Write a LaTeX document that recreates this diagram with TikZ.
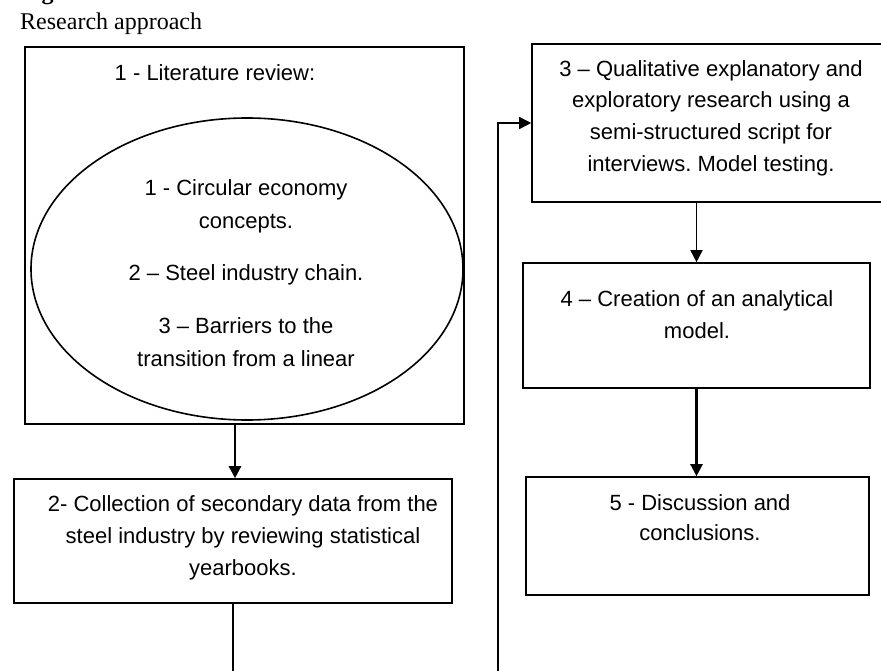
\documentclass[tikz,border=0pt]{standalone}
\usepackage{fontspec}
\setmainfont{Liberation Serif}
\newfontfamily\arialfont[Ligatures=TeX]{Liberation Sans}
\usetikzlibrary{arrows.meta,shapes.geometric}
\frenchspacing
\begin{document}
\begin{tikzpicture}[x=1pt,y=-1pt,
  boxshape/.style={draw,line width=1.6pt,rectangle,inner sep=0pt},
  btext/.style={anchor=north,inner sep=0pt,align=center,font=\arialfont\fontsize{22}{32}\selectfont},
  thickarrow/.style={line width=2.4pt,-{Triangle[width=12pt,length=12pt]}},
  thinarrow/.style={line width=1.6pt,-{Triangle[width=12pt,length=12pt]}},
]
\path[use as bounding box,clip] (0,0) rectangle (881,671);
\fill[white] (0,0) rectangle (881,671);
% title
\node[anchor=base west,inner sep=0pt,font=\bfseries\fontsize{24}{28}\selectfont] (fig) at (20,0) {Figure 1};
\node[anchor=base west,inner sep=0pt,font=\fontsize{24}{28}\selectfont] (title) at (20,30) {Research approach};
% boxes
\node[boxshape,minimum width=439pt,minimum height=377pt] (b1) at (244.5,235.5) {};
\node[draw,line width=1.6pt,ellipse,minimum width=432pt,minimum height=302pt,inner sep=0pt] (el) at (247,269) {};
\node[boxshape,minimum width=438pt,minimum height=124pt] (b2) at (233,541) {};
\node[boxshape,minimum width=358pt,minimum height=158pt] (b3) at (711,123) {};
\node[boxshape,minimum width=347pt,minimum height=125pt] (b4) at (696.5,325.5) {};
\node[boxshape,minimum width=343pt,minimum height=118pt] (b5) at (697.5,536) {};
% texts
\node[btext] (t1) at (215,64) {1 - Literature review:};
\node[btext,font=\arialfont\fontsize{22}{33}\selectfont] (e1) at (246,179) {1 - Circular economy\\concepts.};
\node[btext] (e2) at (246,264) {2 – Steel industry chain.};
\node[btext,font=\arialfont\fontsize{22}{33}\selectfont] (e3) at (246,317) {3 – Barriers to the\\transition from a linear};
\node[btext] (t2) at (243,495) {2- Collection of secondary data from the\\steel industry by reviewing statistical\\yearbooks.};
\node[btext,font=\arialfont\fontsize{22}{31.7}\selectfont] (t3) at (711,60) {3 – Qualitative explanatory and\\exploratory research using a\\semi-structured script for\\interviews. Model testing.};
\node[btext] (t4) at (697,290) {4 – Creation of an analytical\\model.};
\node[btext,font=\arialfont\fontsize{22}{30}\selectfont] (t5) at (700,494) {5 - Discussion and\\conclusions.};
% connectors
\coordinate (lb) at (498,700);
\draw[thickarrow] ([xshift=2pt]b2.north |- b1.south) -- ([xshift=2pt]b2.north);
\draw[thinarrow] (b4.north |- b3.south) -- (b4.north);
\draw[thickarrow] (b4.south) -- (b4.south |- b5.north);
\draw[thinarrow] (b2.south) |- (lb) |- (b3.west);
\end{tikzpicture}
\end{document}
